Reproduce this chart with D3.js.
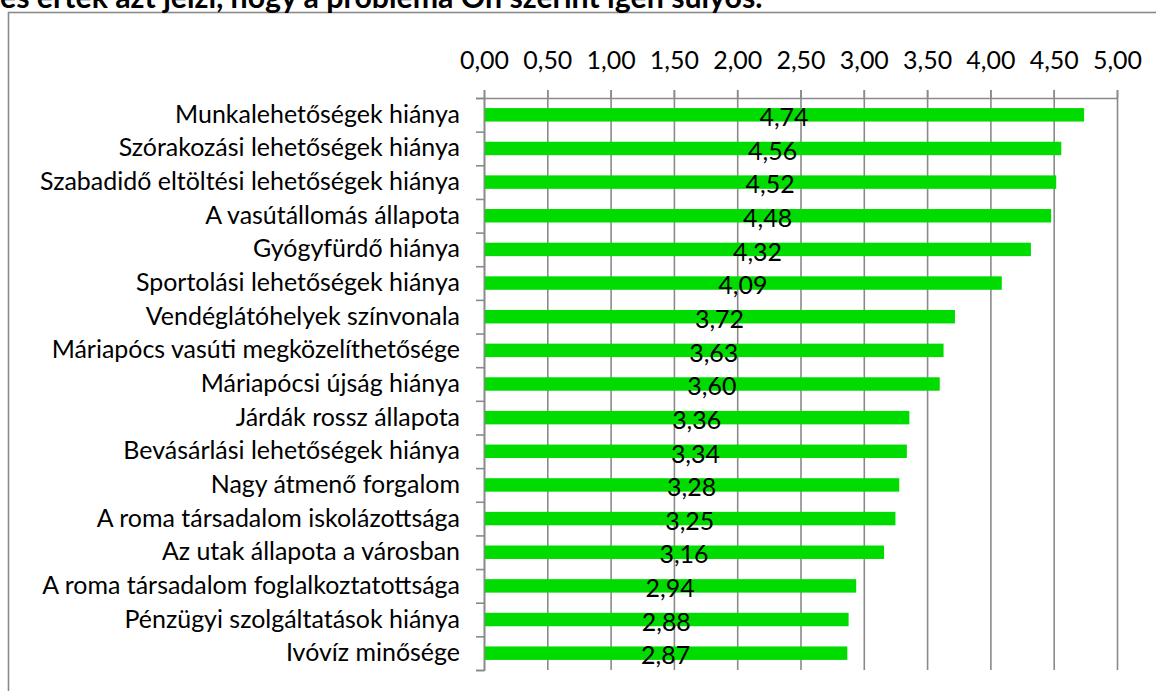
<!DOCTYPE html>
<html>
<head>
<meta charset="utf-8">
<script src="https://cdn.jsdelivr.net/npm/d3@7"></script>
<style>
  html, body { margin: 0; padding: 0; background: #fff; overflow: hidden; }
  svg { display: block; }
  text { font-family: Lato, "Open Sans", sans-serif; fill: #000; }
</style>
</head>
<body>
<svg id="chart" width="1156" height="691"></svg>
<script>
const titleText = "és érték azt jelzi, hogy a probléma Ön szerint igen súlyos.";
const categories = [
  "Munkalehetőségek hiánya",
  "Szórakozási lehetőségek hiánya",
  "Szabadidő eltöltési lehetőségek hiánya",
  "A vasútállomás állapota",
  "Gyógyfürdő hiánya",
  "Sportolási lehetőségek hiánya",
  "Vendéglátóhelyek színvonala",
  "Máriapócs vasúti megközelíthetősége",
  "Máriapócsi újság hiánya",
  "Járdák rossz állapota",
  "Bevásárlási lehetőségek hiánya",
  "Nagy átmenő forgalom",
  "A roma társadalom iskolázottsága",
  "Az utak állapota a városban",
  "A roma társadalom foglalkoztatottsága",
  "Pénzügyi szolgáltatások hiánya",
  "Ivóvíz minősége"
];
const values = [4.74, 4.56, 4.52, 4.48, 4.32, 4.09, 3.72, 3.63, 3.60, 3.36, 3.34, 3.28, 3.25, 3.16, 2.94, 2.88, 2.87];
const tickValues = [0, 0.5, 1, 1.5, 2, 2.5, 3, 3.5, 4, 4.5, 5];

const svg = d3.select("#chart");
const gridColor = "#8a8a8a";
const barColor = "#00dc00";

const plotLeft = 484, plotRight = 1117, plotTop = 98, plotBottom = 670;

const locale = d3.formatLocale({decimal: ",", thousands: " ", grouping: [3], currency: ["", ""]});
const fmt = locale.format(".2f");

// frame
svg.append("rect")
  .attr("x", 8.5).attr("y", 12.5)
  .attr("width", 1200).attr("height", 800)
  .attr("fill", "none").attr("stroke", gridColor).attr("stroke-width", 1.6);

// title (partially cut off at top)
const title = svg.append("text")
  .attr("x", 0).attr("y", 7.5)
  .style("font-weight", "700")
  .style("font-size", "24px")
  .text(titleText);
{
  const w = title.node().getComputedTextLength();
  title.style("font-size", (24 * 763 / w) + "px");
}

// measure label font size to match reference width
const probe = svg.append("text").style("font-size", "24px").text(categories[0]);
const fs = 24 * 285 / probe.node().getComputedTextLength();
probe.remove();

const x = d3.scaleLinear().domain([0, 5]).range([plotLeft, plotRight]);
const y = d3.scaleBand().domain(categories).range([plotTop, plotBottom]).paddingInner(0.6).paddingOuter(0.3);
const yIdx = d3.scaleLinear().domain([0, categories.length]).range([plotTop, plotBottom]);

// gridlines
const grid = svg.append("g").attr("transform", `translate(0,${plotTop - 8})`)
  .call(d3.axisBottom(x).tickValues(tickValues).tickSize(plotBottom - plotTop + 8).tickFormat(""));
grid.select(".domain").remove();
grid.selectAll("line").attr("stroke", gridColor).attr("stroke-width", 1.6);

// top axis
const xAxis = svg.append("g").attr("transform", `translate(0,${plotTop})`)
  .call(d3.axisTop(x).tickValues(tickValues).tickSizeInner(8).tickSizeOuter(0).tickPadding(21).tickFormat(fmt));
xAxis.select(".domain").attr("stroke", gridColor).attr("stroke-width", 1.6);
xAxis.selectAll("line").attr("stroke", gridColor).attr("stroke-width", 1.6);
xAxis.selectAll("text").attr("font-family", null).style("font-size", fs + "px").attr("fill", "#000");

// left axis ticks at band boundaries
const yTicks = svg.append("g").attr("transform", `translate(${plotLeft},0)`)
  .call(d3.axisLeft(yIdx).tickValues(d3.range(categories.length + 1)).tickSize(8).tickFormat(""));
yTicks.select(".domain").attr("stroke", gridColor).attr("stroke-width", 1.6);
yTicks.selectAll("line").attr("stroke", gridColor).attr("stroke-width", 1.6);

// category labels
const yAxis = svg.append("g").attr("transform", `translate(${plotLeft},0)`)
  .call(d3.axisLeft(y).tickSize(0).tickPadding(24));
yAxis.select(".domain").remove();
yAxis.selectAll("text").attr("font-family", null).style("font-size", fs + "px").attr("fill", "#000");

// bars
svg.append("g").selectAll("rect").data(values).join("rect")
  .attr("x", x(0) + 1)
  .attr("y", (d, i) => y(categories[i]))
  .attr("width", d => x(d) - x(0) - 1)
  .attr("height", y.bandwidth())
  .attr("fill", barColor);

// value labels
svg.append("g").selectAll("text").data(values).join("text")
  .attr("x", d => x(d / 2))
  .attr("y", (d, i) => y(categories[i]) + y.bandwidth() / 2)
  .attr("dy", "0.45em")
  .attr("text-anchor", "middle")
  .style("font-size", fs + "px")
  .text(d => fmt(d));
</script>
</body>
</html>
